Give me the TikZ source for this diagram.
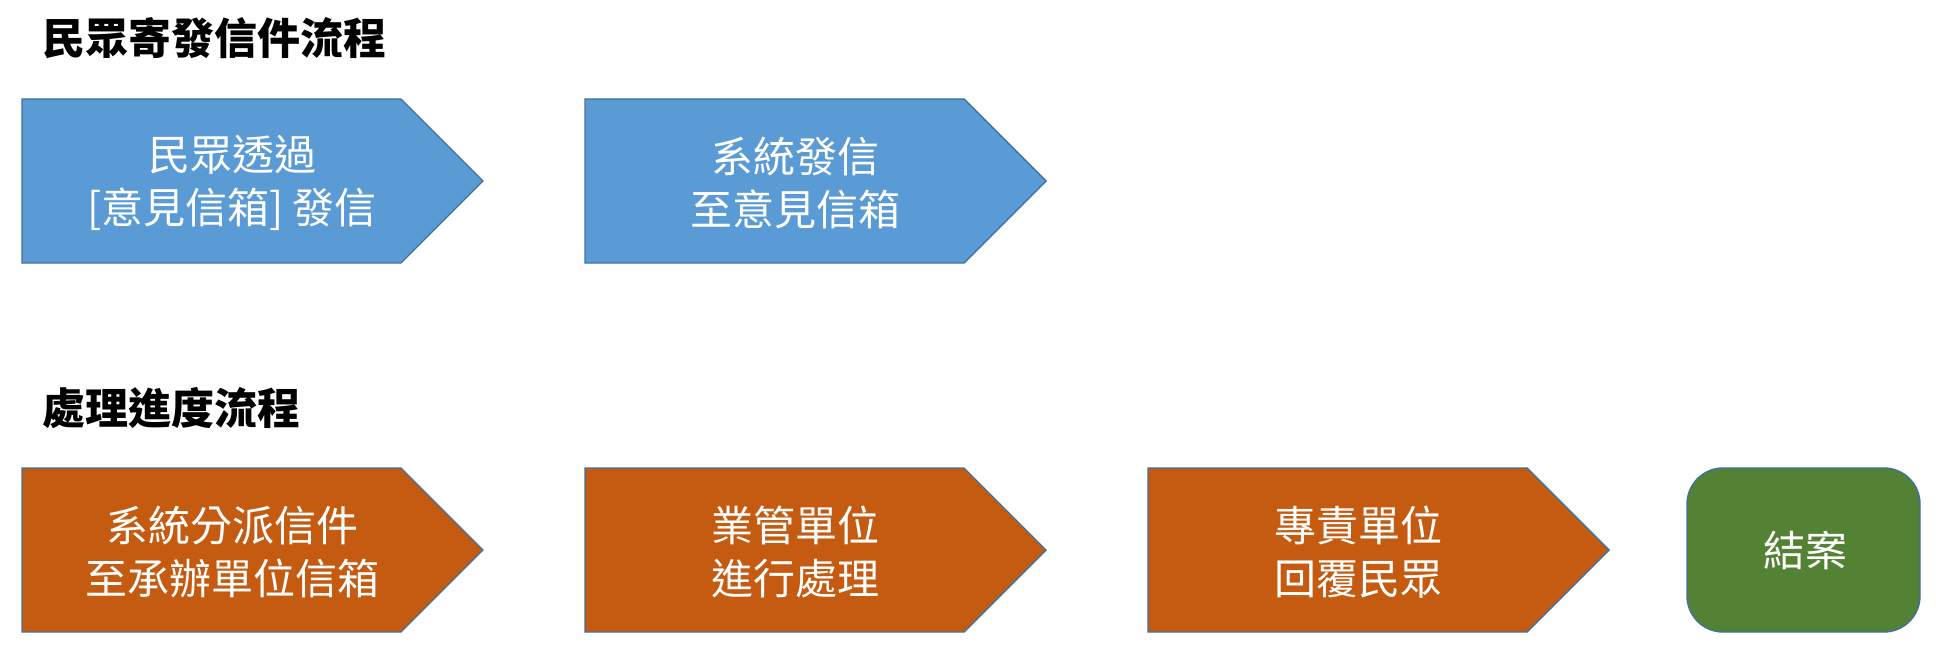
\documentclass[tikz,border=0pt]{standalone}
\usepackage{fontspec}
\setmainfont{Noto Sans CJK TC}
\definecolor{cblue}{HTML}{5B9BD5}
\definecolor{corange}{HTML}{C55A11}
\definecolor{cgreen}{HTML}{548235}
\definecolor{cedge}{HTML}{41719C}
\begin{document}
\begin{tikzpicture}[x=1pt,y=-1pt,
  shapebase/.style={draw=cedge, line width=1.4pt, line join=miter},
  bluearrow/.style={shapebase, fill=cblue},
  orangearrow/.style={shapebase, fill=corange},
  greenbox/.style={shapebase, fill=cgreen, rounded corners=36pt},
  boxtext/.style={text=white, font=\fontsize{42}{53}\selectfont, align=center, inner sep=0pt},
  titletext/.style={font=\fontsize{43}{50}\selectfont\bfseries, anchor=west, inner sep=0pt}]
\useasboundingbox[fill=white] (0,0) rectangle (1936,658);

% titles
\node[titletext] (t1) at (42,38) {民眾寄發信件流程};
\node[titletext] (t2) at (42,408) {處理進度流程};

% row 1
\path[bluearrow] (22,99) -- (401,99) -- (483,181) -- (401,263) -- (22,263) -- cycle;
\node[boxtext] (a1) at (232,183) {民眾透過\\ {[}意見信箱{]} 發信};
\path[bluearrow] (585,99) -- (964,99) -- (1046,181) -- (964,263) -- (585,263) -- cycle;
\node[boxtext] (a2) at (795,183) {系統發信\\ 至意見信箱};

% row 2
\path[orangearrow] (22,468) -- (401,468) -- (483,550) -- (401,632) -- (22,632) -- cycle;
\node[boxtext] (b1) at (232,552) {系統分派信件\\ 至承辦單位信箱};
\path[orangearrow] (585,468) -- (964,468) -- (1046,550) -- (964,632) -- (585,632) -- cycle;
\node[boxtext] (b2) at (795,552) {業管單位\\ 進行處理};
\path[orangearrow] (1148,468) -- (1527,468) -- (1609,550) -- (1527,632) -- (1148,632) -- cycle;
\node[boxtext] (b3) at (1358,552) {專責單位\\ 回覆民眾};
\path[greenbox] (1687,468) rectangle (1920,632);
\node[boxtext] (b4) at (1805,550) {結案};
\end{tikzpicture}
\end{document}
